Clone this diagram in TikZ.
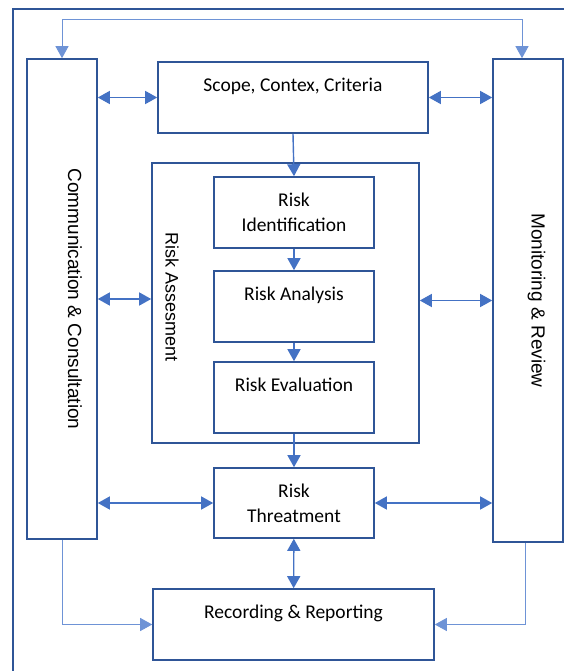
\documentclass[tikz,border=0pt]{standalone}
\usepackage{fontspec}
\setmainfont{Carlito}
\newfontfamily\arialfont{Liberation Sans}
\usepackage{xcolor}
\usetikzlibrary{arrows.meta}
\usetikzlibrary{calc}
\definecolor{boxblue}{HTML}{2F5597}
\definecolor{arrowblue}{HTML}{4472C4}
\definecolor{lineblue}{HTML}{6E93D6}
\tikzset{
  riskbox/.style={draw=boxblue, line width=1.6pt, align=center, inner sep=0pt, font=\fontsize{19.5}{25}\selectfont},
  sidetext/.style={font=\arialfont\fontsize{18}{22}\selectfont, inner sep=0pt},
  flowarrow/.style={draw=arrowblue, line width=1.4pt, -{Triangle[length=12pt,width=13pt]}},
  twoway/.style={draw=arrowblue, line width=1.4pt, {Triangle[length=12pt,width=13pt]}-{Triangle[length=12pt,width=13pt]}},
  thinarrow/.style={draw=lineblue, line width=0.9pt, -{Triangle[length=12pt,width=13pt]}},
  thintwoway/.style={draw=lineblue, line width=0.9pt, {Triangle[length=12pt,width=13pt]}-{Triangle[length=12pt,width=13pt]}},
}

\begin{document}
\begin{tikzpicture}[x=1pt,y=-1pt]
        \newcommand{\riskfigsidewidth}{70pt}
        \newcommand{\riskfigstepwidth}{160pt}
        \newcommand{\riskfigstepheight}{71pt}
        \newcommand{\riskfigstepx}{294}
        \useasboundingbox (0,0) rectangle (564,671);
        \draw[boxblue, line width=1.6pt] (13,671) -- (13,9) -- (564,9);
        \node[riskbox, minimum width=\riskfigsidewidth, minimum height=480pt] (comm) at (62,299) {\hspace*{26pt}\arialfont\fontsize{19}{22}\selectfont\rotatebox{-90}{Communication \& Consultation}};
        \node[riskbox, minimum width=\riskfigsidewidth, minimum height=483pt] (monit) at (528,300.5) {\hspace*{17pt}\arialfont\fontsize{19}{22}\selectfont\rotatebox{-90}{Monitoring \& Review}};
        \node[riskbox, minimum width=270pt, minimum height=\riskfigstepheight] (scope) at (293,97.5) {Scope, Contex, Criteria\\\mbox{}};
        \node[riskbox, minimum width=267pt, minimum height=280pt] (assess) at (285.5,303) {};
        \node[sidetext] (assesslbl) at (172,297) {\rotatebox{-90}{Risk Assesment}};
        \node[riskbox, minimum width=\riskfigstepwidth, minimum height=\riskfigstepheight] (ident) at (\riskfigstepx,212.5) {Risk\\Identification};
        \node[riskbox, minimum width=\riskfigstepwidth, minimum height=\riskfigstepheight] (analysis) at (\riskfigstepx,306.5) {Risk Analysis\\\mbox{}};
        \node[riskbox, minimum width=\riskfigstepwidth, minimum height=\riskfigstepheight] (evalu) at (\riskfigstepx,397.5) {Risk Evaluation\\\mbox{}};
        \node[riskbox, minimum width=\riskfigstepwidth, minimum height=70pt] (treat) at (\riskfigstepx,503) {Risk\\Threatment};
        \node[riskbox, minimum width=281pt, minimum height=\riskfigstepheight] (record) at (293.5,624.5) {Recording \& Reporting\\\mbox{}};
        \draw[thintwoway] (comm.north) -- ++(0,-39) -| ([xshift=-6pt]monit.north);
        \draw[thinarrow] (comm.south) |- (record.west);
        \draw[thinarrow] ([xshift=-3pt]monit.south) |- (record.east);
        \draw[twoway] (comm.east |- scope.west) -- (scope.west);
        \draw[twoway] (scope.east) -- (monit.west |- scope.east);
        \draw[twoway] (comm.east) -- (assess.west |- comm.east);
        \draw[twoway] (assess.east |- monit.west) -- (monit.west);
        \draw[twoway] (comm.east |- treat.west) -- (treat.west);
        \draw[twoway] (treat.east) -- (monit.west |- treat.east);
        \draw[flowarrow] (scope.south) -- (ident.north);
        \draw[flowarrow] (ident) -- (analysis);
        \draw[flowarrow] (analysis) -- (evalu);
        \draw[flowarrow] (evalu) -- (treat);
        \draw[twoway] (treat) -- (record);
\end{tikzpicture}
\end{document}
